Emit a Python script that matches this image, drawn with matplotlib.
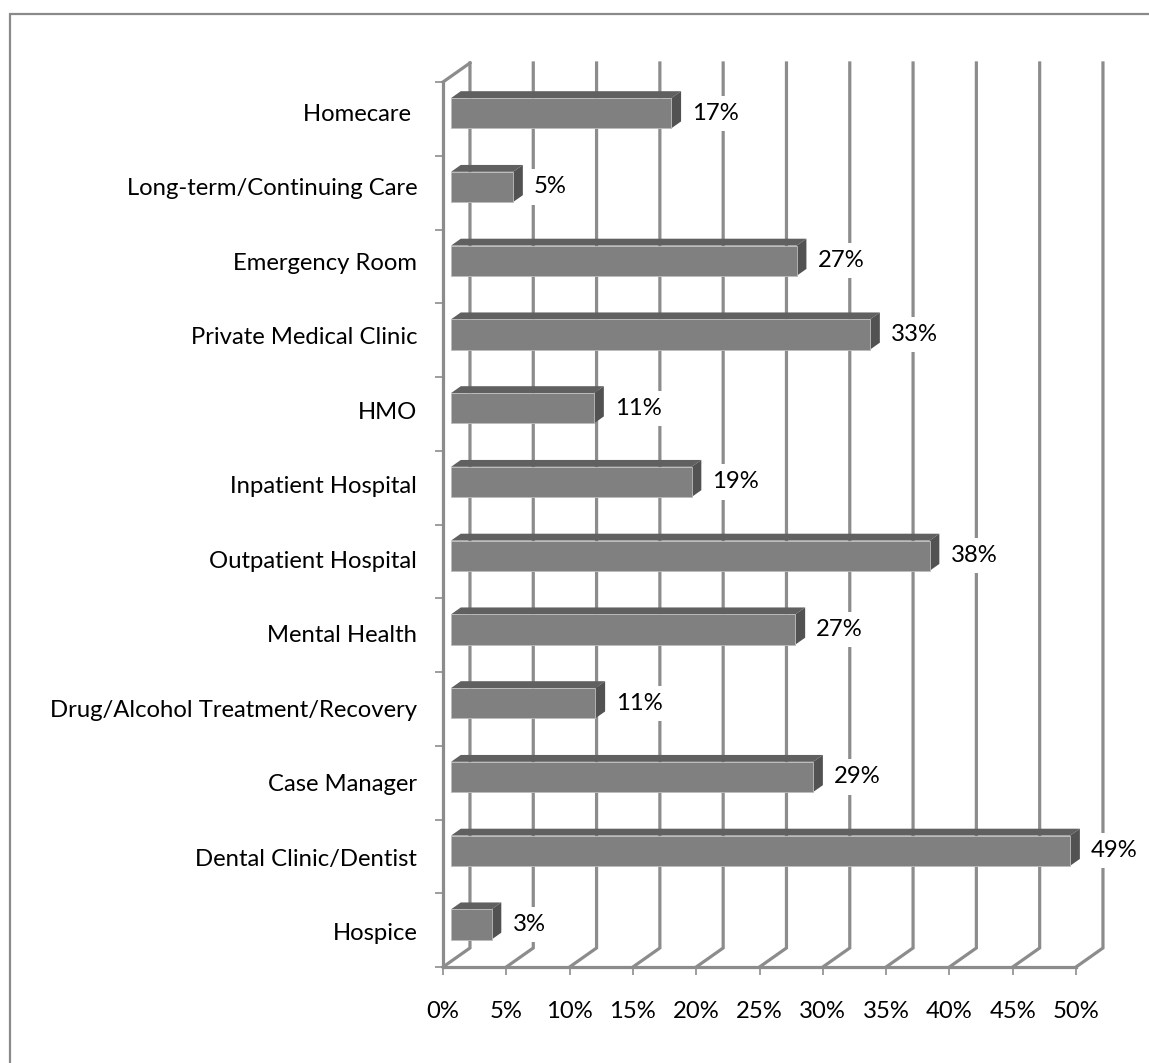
import matplotlib
matplotlib.use("Agg")
import matplotlib.pyplot as plt
from matplotlib.patches import Polygon, Rectangle
import numpy as np

categories = ["Homecare ", "Long-term/Continuing Care", "Emergency Room",
              "Private Medical Clinic", "HMO", "Inpatient Hospital",
              "Outpatient Hospital", "Mental Health",
              "Drug/Alcohol Treatment/Recovery", "Case Manager",
              "Dental Clinic/Dentist", "Hospice"]
values = [17.4, 4.9, 27.3, 33.1, 11.3, 19.0, 37.8, 27.2, 11.4, 28.6, 48.9, 3.2]
xticks = [0, 5, 10, 15, 20, 25, 30, 35, 40, 45, 50]
xticklabels = [f"{t}%" for t in xticks]

FONT = "Lato"
FS = 17.2
GRID = "#8c8c8c"
FRONT = "#808080"
TOP = "#606060"
SIDE = "#525252"

W, H = 1149, 1063
fig = plt.figure(figsize=(W / 100, H / 100), dpi=100)
fig.patch.set_facecolor("white")
# outer frame (right/bottom edges beyond the image)
fig.patches.append(Rectangle((10 / W, -0.1), 1.2, (H - 14) / H + 0.1,
                             transform=fig.transFigure, fill=False,
                             edgecolor="#8a8a8a", linewidth=1.6))

ax = fig.add_axes([443 / W, (H - 967) / H, (1076 - 443) / W, (967 - 82) / H])
n = len(categories)
ax.set_xlim(0, 50)
ax.set_ylim(-0.5, n - 0.5)

# depth of the 3D box, in data units
SX = 2.13
SY = 0.258
d1, d2 = 0.30, 0.66
bh = 0.41

# back wall gridlines with floor slants
for t in xticks:
    ax.plot([t, t + SX, t + SX], [-0.5, -0.5 + SY, n - 0.5 + SY],
            color=GRID, lw=2.3, zorder=1, clip_on=False, solid_joinstyle="miter")
# left wall top slant
ax.plot([0, SX], [n - 0.5, n - 0.5 + SY], color=GRID, lw=2.3, zorder=1,
        clip_on=False)

for k, (cat, v) in enumerate(zip(categories, values)):
    y = n - 1 - k
    x0 = d1 * SX
    x1 = v + d1 * SX
    yb = y - bh / 2 + d1 * SY
    yt = y + bh / 2 + d1 * SY
    ddx = (d2 - d1) * SX
    ddy = (d2 - d1) * SY
    ax.add_patch(Polygon([(x0, yt), (x1, yt), (x1 + ddx, yt + ddy), (x0 + ddx, yt + ddy)],
                         closed=True, facecolor=TOP, edgecolor="none", zorder=3,
                         clip_on=False))
    ax.add_patch(Polygon([(x1, yb), (x1 + ddx, yb + ddy), (x1 + ddx, yt + ddy), (x1, yt)],
                         closed=True, facecolor=SIDE, edgecolor="none", zorder=3,
                         clip_on=False))
    ax.add_patch(Rectangle((x0, yb), v, bh, facecolor=FRONT, edgecolor="#bcbcbc",
                           linewidth=0.6, zorder=4, clip_on=False))
    ax.annotate(f"{v:.0f}%", xy=(x1, y + d1 * SY), xytext=(15, 0),
                textcoords="offset points", ha="left", va="center",
                fontsize=FS, family=FONT, color="black", zorder=5,
                bbox=dict(boxstyle="square,pad=0.3", facecolor="white",
                          edgecolor="none"), annotation_clip=False)

for s in ["top", "right"]:
    ax.spines[s].set_visible(False)
for s in ["left", "bottom"]:
    ax.spines[s].set_color(GRID)
    ax.spines[s].set_linewidth(2.3)
    ax.spines[s].set_zorder(2)

ax.set_xticks(xticks)
ax.set_xticklabels(xticklabels, fontsize=FS, family=FONT)
ax.tick_params(axis="x", length=5.8, width=1.2, color=GRID, pad=19)

# category labels sit slightly higher toward the top (3D perspective)
label_shift = np.linspace(-0.02, 0.09, n)
ax.set_yticks(np.arange(n) + label_shift)
ax.set_yticklabels(categories[::-1], fontsize=FS, family=FONT)
ax.set_yticks(np.arange(-0.5, n, 1.0), minor=True)
ax.tick_params(axis="y", which="major", length=0, pad=18.5)
ax.tick_params(axis="y", which="minor", length=5.8, width=1.2, color=GRID)
ax.patch.set_alpha(0)

fig.savefig("out.png", dpi=100, facecolor="white")
